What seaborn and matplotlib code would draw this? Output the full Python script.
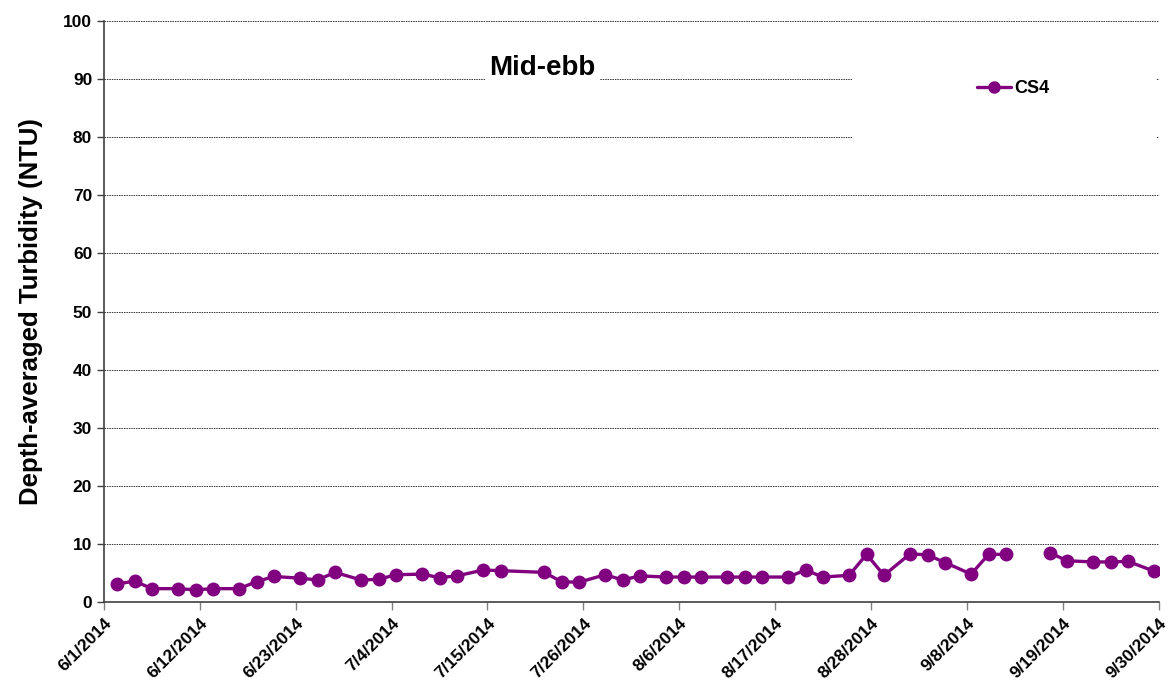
import matplotlib
matplotlib.use('Agg')
import pandas as pd
import numpy as np
import matplotlib.pyplot as plt
from matplotlib.patches import Rectangle
import seaborn as sns

# sampling dates (mid-ebb, around noon) and depth-averaged turbidity for CS4
dates = ["6/2", "6/4", "6/6", "6/9", "6/11", "6/13", "6/16", "6/18", "6/20", "6/23",
         "6/25", "6/27", "6/30", "7/2", "7/4", "7/7", "7/9", "7/11", "7/14", "7/16",
         "7/21", "7/23", "7/25", "7/28", "7/30", "8/1", "8/4", "8/6", "8/8", "8/11",
         "8/13", "8/15", "8/18", "8/20", "8/22", "8/25", "8/27", "8/29", "9/1", "9/3",
         "9/5", "9/8", "9/10", "9/12", "9/15", "9/17", "9/19", "9/22", "9/24", "9/26",
         "9/29"]
cs4 = [3.1, 3.6, 2.3, 2.3, 2.1, 2.3, 2.3, 3.5, 4.4, 4.1,
       3.8, 5.1, 3.8, 3.9, 4.7, 4.8, 4.2, 4.5, 5.5, 5.4,
       5.1, 3.5, 3.4, 4.7, 3.8, 4.5, 4.3, 4.3, 4.3, 4.3,
       4.3, 4.3, 4.3, 5.5, 4.3, 4.6, 8.2, 4.6, 8.3, 8.1,
       6.8, 4.8, 8.2, 8.2, np.nan, 8.5, 7.1, 6.9, 6.9, 7.0,
       5.3]
tick_start = "2014-06-01"
tick_step_days = 11
n_ticks = 12

df = pd.DataFrame({
    "date": pd.to_datetime([d + "/2014 12:00" for d in dates], format="%m/%d/%Y %H:%M"),
    "turb": cs4,
})
# missing sample breaks the line into segments
df["seg"] = df["turb"].isna().cumsum()
df = df.dropna()

sns.set_style("white")
plt.rcParams['font.family'] = ['Liberation Sans', 'DejaVu Sans']
plt.rcParams['font.weight'] = 'bold'
plt.rcParams['text.color'] = 'black'
plt.rcParams['axes.labelcolor'] = 'black'
plt.rcParams['xtick.color'] = 'black'
plt.rcParams['ytick.color'] = 'black'

fig = plt.figure(figsize=(11.74, 6.9), dpi=100)
ax = fig.add_axes([0.0886, 0.1275, 0.8982, 0.8421])

sns.lineplot(data=df, x="date", y="turb", units="seg", estimator=None,
             color="#800080", marker="o", markersize=10, markeredgewidth=0,
             linewidth=2.4, ax=ax, zorder=3)

ticks = pd.date_range(tick_start, periods=n_ticks, freq=f"{tick_step_days}D")
ax.set_xlim(ticks[0], ticks[-1])
ax.set_xticks(ticks)
ax.set_xticklabels([f"{t.month}/{t.day}/{t.year}" for t in ticks],
                   rotation=45, ha="right", rotation_mode="anchor", fontsize=12.5,
                   fontweight="bold")
ax.set_ylim(0, 100)
ax.set_yticks(range(0, 101, 10))
ax.tick_params(axis="y", labelsize=12.5, length=5, width=1, color="#404040", direction="out", left=True)
ax.tick_params(axis="x", length=6, width=1, color="#808080", direction="out", bottom=True, pad=4)
for lab in ax.get_yticklabels():
    lab.set_fontweight("bold")

ax.set_xlabel("")
ax.set_ylabel("Depth-averaged Turbidity (NTU)", fontsize=18.5, fontweight="bold")
ax.yaxis.set_label_coords(-0.058, 0.5)

ax.grid(axis="y", color="#303030", linestyle=(0, (1.5, 1)), linewidth=0.7)
ax.grid(axis="x", visible=False)
ax.set_axisbelow(True)
for s in ["top", "right"]:
    ax.spines[s].set_visible(False)
for s in ["left", "bottom"]:
    ax.spines[s].set_color("#404040")
    ax.spines[s].set_linewidth(1.2)

# white legend area hiding the gridlines
ax.add_patch(Rectangle((0.709, 0.786), 0.289, 0.135, transform=ax.transAxes,
                       facecolor="white", edgecolor="none", zorder=1))
line = ax.lines[0]
line.set_label("CS4")
ax.legend(handles=[line], loc="center left", bbox_to_anchor=(0.812, 0.883),
          frameon=False, handlelength=1.9, handletextpad=0.2, markerscale=0.9,
          prop={"weight": "bold", "size": 13})

ax.text(0.416, 0.919, "Mid-ebb", transform=ax.transAxes, ha="center", va="center",
        fontsize=20, fontweight="bold",
        bbox=dict(facecolor="white", edgecolor="none", pad=3), zorder=4)

fig.savefig("out.png", dpi=100)
